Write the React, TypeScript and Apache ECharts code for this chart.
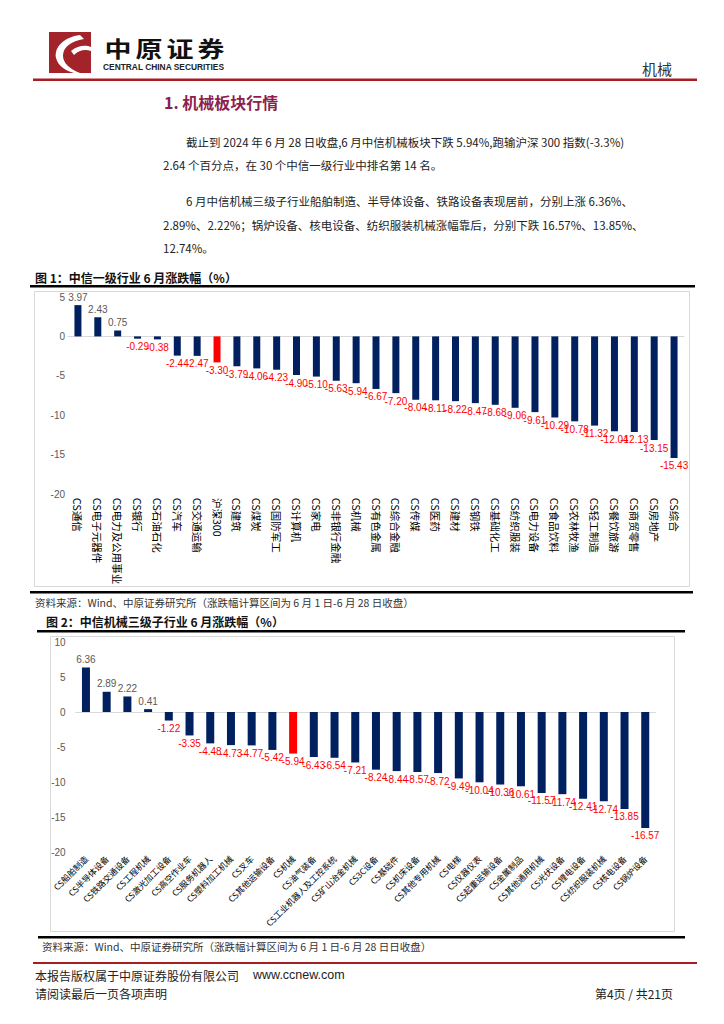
import React, { useEffect, useRef } from "react";
import * as echarts from "echarts";

// ---------- data ----------
const industryNames = [
  "CS通信", "CS电子元器件", "CS电力及公用事业", "CS银行", "CS石油石化", "CS汽车", "CS交通运输", "沪深300",
  "CS建筑", "CS煤炭", "CS国防军工", "CS计算机", "CS家电", "CS非银行金融", "CS机械", "CS有色金属",
  "CS综合金融", "CS传媒", "CS医药", "CS建材", "CS钢铁", "CS基础化工", "CS纺织服装", "CS电力设备",
  "CS食品饮料", "CS农林牧渔", "CS轻工制造", "CS餐饮旅游", "CS商贸零售", "CS房地产", "CS综合",
];
const industryChanges = [
  3.97, 2.43, 0.75, -0.29, -0.38, -2.44, -2.47, -3.3, -3.79, -4.06, -4.23, -4.9, -5.1, -5.63, -5.94, -6.67,
  -7.2, -8.04, -8.11, -8.22, -8.47, -8.68, -9.06, -9.61, -10.29, -10.78, -11.32, -12.04, -12.13, -13.15, -15.43,
];
const industryHighlight = "沪深300";
const industryAxis = { min: -20, max: 5, interval: 5 };

const subNames = [
  "CS船舶制造", "CS半导体设备", "CS铁路交通设备", "CS工程机械", "CS激光加工设备", "CS高空作业车", "CS服务机器人",
  "CS塑料加工机械", "CS叉车", "CS其他运输设备", "CS机械", "CS油气装备", "CS工业机器人及工控系统", "CS矿山冶金机械",
  "CS3C设备", "CS基础件", "CS机床设备", "CS其他专用机械", "CS电梯", "CS仪器仪表", "CS起重运输设备", "CS金属制品",
  "CS其他通用机械", "CS光伏设备", "CS锂电设备", "CS纺织服装机械", "CS核电设备", "CS锅炉设备",
];
const subChanges = [
  6.36, 2.89, 2.22, 0.41, -1.22, -3.35, -4.48, -4.73, -4.77, -5.42, -5.94, -6.43, -6.54, -7.21,
  -8.24, -8.44, -8.57, -8.72, -9.49, -10.04, -10.36, -10.61, -11.57, -11.74, -12.41, -12.74, -13.85, -16.57,
];
const subHighlight = "CS机械";
const subAxis = { min: -20, max: 10, interval: 5 };

const headingText = "1. 机械板块行情";
const paragraphLines = [
  "截止到 2024 年 6 月 28 日收盘,6 月中信机械板块下跌 5.94%,跑输沪深 300 指数(-3.3%)",
  "2.64 个百分点，在 30 个中信一级行业中排名第 14 名。",
  "6 月中信机械三级子行业船舶制造、半导体设备、铁路设备表现居前，分别上涨 6.36%、",
  "2.89%、2.22%；锅炉设备、核电设备、纺织服装机械涨幅靠后，分别下跌 16.57%、13.85%、",
  "12.74%。",
];
const title1 = "图 1：中信一级行业 6 月涨跌幅（%）";
const title2 = "图 2：中信机械三级子行业 6 月涨跌幅（%）";
const source1 = "资料来源：Wind、中原证券研究所（涨跌幅计算区间为 6 月 1 日-6 月 28 日收盘）";
const source2 = "资料来源：Wind、中原证券研究所（涨跌幅计算区间为 6 月 1 日-6 月 28 日日收盘）";

// ---------- styles ----------
const NAVY = "#002060";
const RED = "#FF0000";
const CJK = "'Noto Sans CJK SC', 'Noto Sans', sans-serif";
const LATIN = "'Liberation Sans', Arial, sans-serif";

echarts.graphic.registerShape(
  "swooshA",
  echarts.graphic.extendPath(
    "M31 3 C15 5 5 15 7 26 C9 34 17 39 25 41 L31 41 C21 37 14 31 14 24 C14 15 22 9 35 7 Z",
    {}
  )
);
echarts.graphic.registerShape(
  "swooshB",
  echarts.graphic.extendPath("M22 19 C29 13 37 13 42 15 L42 19 C36 17 30 18 25 23 Z", {})
);

function barItems(names: string[], values: number[], hl: string) {
  return values.map((v, i) => ({
    value: v,
    itemStyle: { color: names[i] === hl ? RED : NAVY },
    label: { position: v >= 0 ? "top" : "bottom", color: v >= 0 ? "#595959" : RED },
  }));
}

function txt(text: string, x: number, y: number, o: any = {}) {
  return {
    type: "text",
    x,
    y,
    scaleY: o.scaleY ?? 1,
    style: {
      text,
      fontSize: o.size ?? 12,
      fontFamily: o.family ?? CJK,
      fontWeight: o.weight ?? "normal",
      fill: o.color ?? "#222",
      textAlign: o.align ?? "left",
      textVerticalAlign: "middle",
    },
  };
}

function line(x: number, y: number, w: number, h: number, color: string) {
  return { type: "rect", shape: { x, y, width: w, height: h }, style: { fill: color } };
}

function makeOption() {
  const catLabelAxis = (grid: number, data: string[], rotate: number, size: number, margin: number) => ({
    type: "category",
    gridIndex: grid,
    data,
    position: "bottom",
    axisLine: { show: false, onZero: false },
    axisTick: { show: false },
    axisLabel: { interval: 0, rotate, fontSize: size, color: "#000", margin, fontFamily: CJK },
  });
  const zeroAxis = (grid: number, data: string[]) => ({
    type: "category",
    gridIndex: grid,
    data,
    position: "bottom",
    axisLine: { show: true, onZero: true, lineStyle: { color: "#D9D9D9", width: 1 } },
    axisTick: { show: false },
    axisLabel: { show: false },
  });
  const valAxis = (grid: number, a: any, margin: number) => ({
    type: "value",
    gridIndex: grid,
    min: a.min,
    max: a.max,
    interval: a.interval,
    axisLine: { show: false },
    axisTick: { show: false },
    splitLine: { show: false },
    axisLabel: { fontSize: 10, color: "#595959", margin, fontFamily: LATIN },
  });
  const barLabel = {
    show: true,
    fontSize: 10,
    fontFamily: LATIN,
    distance: 3,
    formatter: (p: any) => Number(p.value).toFixed(2),
  };

  const graphics: any[] = [
    // header
    { type: "rect", shape: { x: 49, y: 32, width: 42, height: 41 }, style: { fill: "#A3232A" } },
    { type: "swooshA", x: 49, y: 32, style: { fill: "#FFFFFF" } },
    { type: "swooshB", x: 49, y: 32, style: { fill: "#FFFFFF" } },
    ...["中", "原", "证", "券"].map((c, i) =>
      txt(c, 118 + i * 31, 48, { size: 27, weight: "bold", color: "#111", align: "center", scaleY: 0.8 })
    ),
    txt("CENTRAL CHINA SECURITIES", 103, 67, { size: 8.4, weight: "bold", family: LATIN, color: "#222" }),
    txt("机械", 657, 68, { size: 15, color: "#333", align: "center" }),
    line(33, 78.5, 664, 2.5, "#A51E22"),
    // heading + paragraph
    txt(headingText, 164, 102, { size: 16, weight: "bold", color: "#8C1F4E" }),
    ...paragraphLines.map((t, i) =>
      txt(t, i === 0 || i === 2 ? 186 : 163, [141.5, 165, 201, 225, 248][i], { size: 11.5, color: "#222" })
    ),
    // chart 1 frame
    txt(title1, 35, 277, { size: 12, weight: "bold", color: "#111" }),
    line(30, 285, 665, 2.5, "#000"),
    { type: "rect", shape: { x: 34.5, y: 291.5, width: 655, height: 295 }, style: { fill: "none", stroke: "#D9D9D9", lineWidth: 1 } },
    line(30, 591, 663, 2.5, "#000"),
    txt(source1, 35, 602, { size: 10.5, color: "#333" }),
    // chart 2 frame
    txt(title2, 46, 621, { size: 12, weight: "bold", color: "#111" }),
    line(37, 630, 648, 2.5, "#000"),
    { type: "rect", shape: { x: 50.5, y: 636.5, width: 624, height: 295 }, style: { fill: "none", stroke: "#D9D9D9", lineWidth: 1 } },
    line(38, 936, 647, 2.5, "#000"),
    txt(source2, 42, 946, { size: 10.5, color: "#333" }),
    // footer
    line(33, 962, 664, 2, "#A51E22"),
    txt("本报告版权属于中原证券股份有限公司", 35, 975, { size: 12, color: "#222" }),
    txt("www.ccnew.com", 253, 975, { size: 12.5, family: LATIN, color: "#222" }),
    txt("请阅读最后一页各项声明", 35, 993, { size: 12, color: "#222" }),
    txt("第4页 / 共21页", 673, 993, { size: 12, color: "#222", align: "right" }),
  ];

  return {
    animation: false,
    backgroundColor: "#FFFFFF",
    grid: [
      { left: 68, top: 297, width: 616, height: 197, containLabel: false },
      { left: 75.6, top: 642, width: 580, height: 210, containLabel: false },
    ],
    xAxis: [
      catLabelAxis(0, industryNames, -90, 10.5, 4),
      zeroAxis(0, industryNames),
      catLabelAxis(1, subNames, 45, 8.5, 5),
      zeroAxis(1, subNames),
    ],
    yAxis: [valAxis(0, industryAxis, 3), valAxis(1, subAxis, 10)],
    series: [
      {
        type: "bar",
        xAxisIndex: 0,
        yAxisIndex: 0,
        barWidth: 7,
        label: barLabel,
        data: barItems(industryNames, industryChanges, industryHighlight),
      },
      {
        type: "bar",
        xAxisIndex: 2,
        yAxisIndex: 1,
        barWidth: 8,
        label: barLabel,
        data: barItems(subNames, subChanges, subHighlight),
      },
    ],
    graphic: { elements: graphics },
  };
}

export default function App() {
  const ref = useRef<HTMLDivElement>(null);
  useEffect(() => {
    if (!ref.current) return;
    const chart = echarts.init(ref.current, undefined, { renderer: "svg" });
    chart.setOption(makeOption() as any);
    return () => chart.dispose();
  }, []);
  return (
    <div
      ref={ref}
      style={{ position: "absolute", left: 0, top: 0, width: 724, height: 1024, background: "#fff" }}
    />
  );
}
